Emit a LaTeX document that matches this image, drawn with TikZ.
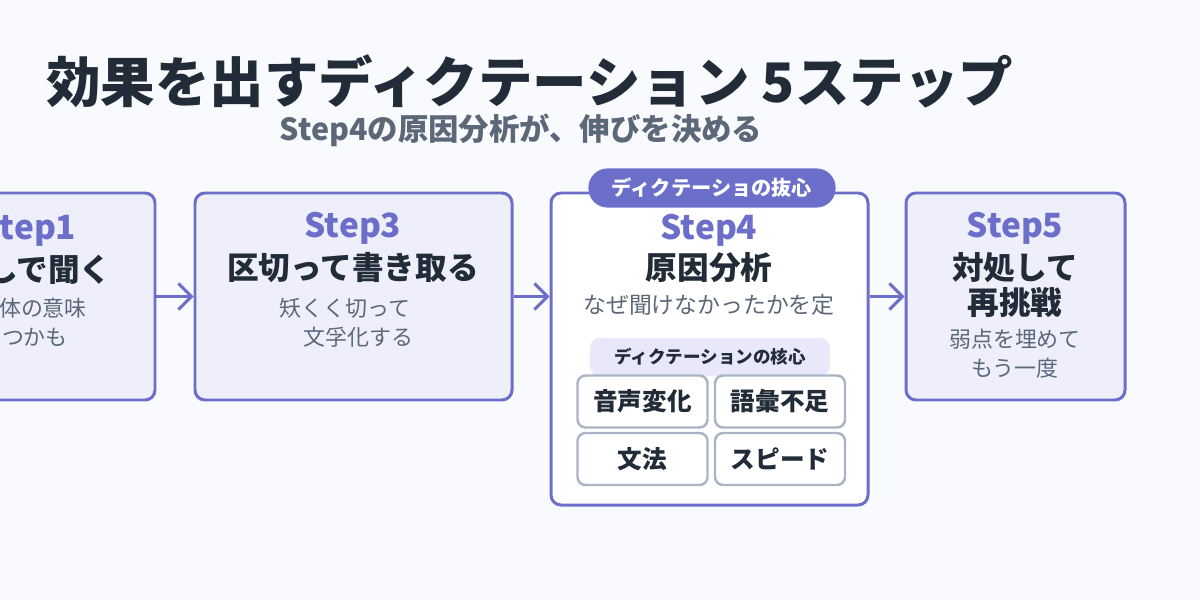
\documentclass[tikz,border=0pt]{standalone}
\usepackage{fontspec}
\setmainfont{Noto Sans CJK JP}
\usetikzlibrary{arrows.meta,positioning}
\definecolor{indigo}{HTML}{6B6FC9}
\definecolor{lav}{HTML}{EFEFFB}
\definecolor{ink}{HTML}{222B38}
\definecolor{slate}{HTML}{5C6878}
\definecolor{paper}{HTML}{F8FAFD}
\definecolor{chipline}{HTML}{AAB4C4}
\definecolor{headfill}{HTML}{E8E8FA}

\begin{document}
\begin{tikzpicture}[x=0.2mm, y=-0.2mm,
  stepbox/.style={draw=indigo, line width=1.7pt, rounded corners=2mm, fill=lav,
                  minimum width=63.4mm, minimum height=41.4mm, inner sep=0pt},
  steplbl/.style={text=indigo, font=\fontsize{19}{22}\selectfont\bfseries},
  stepname/.style={text=ink, font=\fontsize{18}{20}\selectfont\bfseries, align=center},
  stepnote/.style={text=slate, font=\fontsize{12.5}{16.5}\selectfont, align=center},
  chip/.style={draw=chipline, line width=1.4pt, rounded corners=1.6mm, fill=white,
               minimum width=26mm, minimum height=10.4mm,
               font=\fontsize{14}{16}\selectfont\bfseries, text=ink},
  arr/.style={-{Straight Barb[length=2.6mm, width=5.2mm]}, line width=1.7pt, indigo},
]
\clip (0,0) rectangle (1200,600);
\fill[paper] (0,0) rectangle (1200,600);

% Title
\node[anchor=west, text=ink, font=\fontsize{31}{35}\selectfont\bfseries] (title) at (40,81)
  {効果を出すディクテーション 5ステップ};
\node[text=slate, font=\fontsize{17.3}{20}\selectfont\bfseries] (sub) at (521,130)
  {Step4の原因分析が、伸びを決める};

% Step boxes
\node[stepbox] (s1) at (-3.5,296.5) {};
\node[stepbox] (s3) at (353.5,296.5) {};
\node[stepbox, fill=white, minimum height=62.4mm] (s4) at (709.5,349) {};
\node[stepbox, minimum width=43.8mm] (s5) at (1015.5,296.5) {};

% Step1
\node[steplbl] (s1a) at (28,230) {Step1};
\node[stepname] (s1b) at (33,270) {通しで聞く};
\node[stepnote] (s1c) at (32,308) {全体の意味};
\node[stepnote] (s1d) at (24,337) {をつかも};

% Step3
\node[steplbl] (s3a) at (353,228) {Step3};
\node[stepname] (s3b) at (353,268) {区切って書き取る};
\node[stepnote] (s3c) at (345,322.5) {矨くく切って\\\hspace*{1.2em}文孚化する};

% Step4
\node[draw=indigo, line width=1.2pt, fill=indigo, rounded corners=3.6mm,
      minimum width=49mm, minimum height=7.4mm, text=white,
      font=\fontsize{11.5}{13}\selectfont\bfseries] (tag) at (712,188) {ディクテーショの抜心};
\node[steplbl] (s4a) at (709,230) {Step4};
\node[stepname] (s4b) at (709,268) {原因分析};
\node[stepnote, font=\fontsize{13}{16}\selectfont] (s4c) at (709,305) {なぜ聞けなかったかを定};
\node[fill=headfill, rounded corners=2mm, minimum width=48mm, minimum height=7.6mm,
      text=ink, font=\fontsize{10}{12}\selectfont\bfseries] (head) at (710,357) {ディクテーションの核心};
\foreach \nm/\cx/\cy/\txt in {c1/642.5/401.5/音声変化, c2/780/401.5/語彙不足,
                             c3/642.5/459/文法, c4/780/459/スピード} {
  \node[chip] (\nm) at (\cx,\cy) {\txt};
}

% Step5
\node[steplbl] (s5a) at (1015,228) {Step5};
\node[stepname, font=\fontsize{18}{19.9}\selectfont\bfseries] (s5b) at (1015,285.5) {対処して\\再挑戦};
\node[stepnote] (s5c) at (1015,354) {弱点を埋めて\\もう一度};

% Arrows
\draw[arr] (s1) -- (s3);
\draw[arr] (s3.east) -- (s3.east -| s4.west);
\draw[arr] (s3.east -| s4.east) -- (s3.east -| s5.west);
\end{tikzpicture}
\end{document}
